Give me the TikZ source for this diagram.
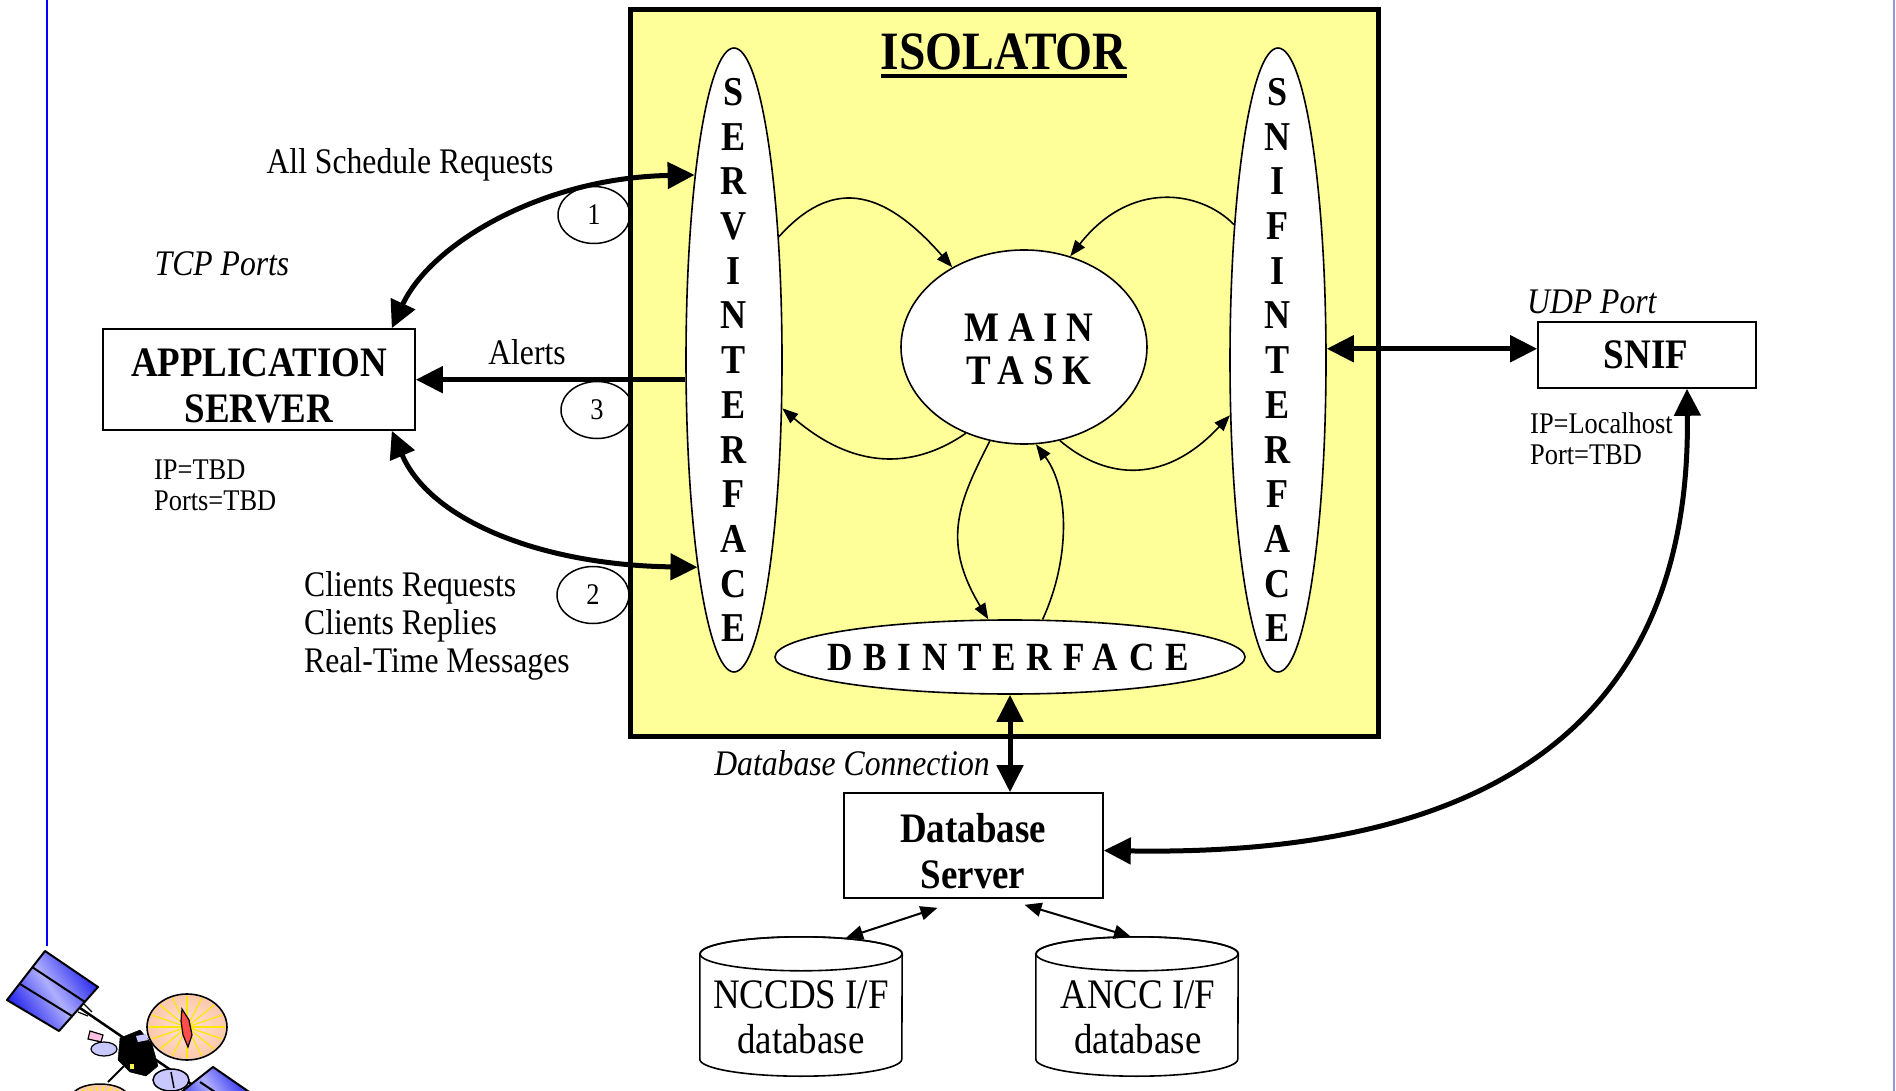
\documentclass[tikz,border=0pt]{standalone}
\usepackage{fontspec}
\setmainfont{Liberation Serif}[FakeStretch=0.88]
\usetikzlibrary{arrows.meta,shapes.geometric,calc}

\definecolor{isoyellow}{RGB}{255,255,153}
\definecolor{rulelav}{RGB}{150,150,230}
\definecolor{panelblue}{RGB}{30,30,235}
\definecolor{panellight}{RGB}{175,175,255}
\definecolor{dishpeach}{RGB}{250,200,170}
\definecolor{dishpink}{RGB}{255,225,215}
\definecolor{partlav}{RGB}{200,200,255}

% storage drum drawn round a named (invisible) rectangle node
\newcommand\drum[1]{%
  \filldraw[fill=white, line width=1.6pt]
    ($(#1.north west)+(0,17)$) -- ($(#1.south west)+(0,-17)$)
    arc[start angle=180, end angle=360, x radius=101pt, y radius=17pt]
    -- ($(#1.north east)+(0,17)$)
    arc[start angle=0, end angle=180, x radius=101pt, y radius=17pt];
  \draw[line width=1.6pt] ($(#1.north)+(0,17)$) ellipse[x radius=101pt, y radius=17pt];
}

\begin{document}
\begin{tikzpicture}[x=1pt, y=-1pt,
  lbl/.style={font=\fontsize{36}{38}\selectfont, inner sep=0pt},
  ilbl/.style={font=\fontsize{36}{38}\selectfont\itshape, inner sep=0pt},
  slbl/.style={font=\fontsize{30}{32}\selectfont, inner sep=0pt},
  boxnode/.style={draw, line width=1.6pt, fill=white, inner sep=0pt},
  btxt/.style={font=\fontsize{42}{46}\selectfont\bfseries, align=center, inner sep=0pt},
  ctxt/.style={font=\fontsize{42}{45}\selectfont, align=center, inner sep=0pt},
  vlet/.style={font=\fontsize{41}{41}\selectfont\bfseries, inner sep=0pt},
  oval/.style={ellipse, draw, line width=1.6pt, fill=white, inner sep=0pt},
  numc/.style={ellipse, draw, line width=1.5pt, fill=white, inner sep=0pt,
               minimum width=72pt, minimum height=57pt, font=\fontsize{30}{30}\selectfont},
  heavy/.style={line width=5pt, -{Triangle[length=27pt,width=26pt]}},
  heavyboth/.style={line width=5pt, {Triangle[length=27pt,width=26pt]}-{Triangle[length=27pt,width=26pt]}},
  flow/.style={line width=1.6pt, -{Triangle[length=16pt,width=12pt]}},
  dbflow/.style={line width=2pt, {Triangle[length=17pt,width=14pt]}-{Triangle[length=17pt,width=14pt]}},
]
\useasboundingbox (0,0) rectangle (1896,1091);
\fill[white] (0,0) rectangle (1896,1091);

% page rules
\draw[blue, line width=2pt] (47,0) -- (47,946);
\draw[rulelav, line width=2pt] (1894,0) -- (1894,1091);

% numbered port markers (partly hidden by the isolator frame)
\node[numc] (n1) at (594,215) {1};
\node[numc] (n3) at (597,410) {3};
\node[numc] (n2) at (593,595) {2};

% isolator frame and title
\node[draw, line width=5pt, fill=isoyellow, minimum width=748pt, minimum height=726pt, inner sep=0pt] (iso) at (1004,373) {};
\node[font=\fontsize{54}{54}\selectfont\bfseries, inner sep=0pt, anchor=base] (isot) at (1004,70) {ISOLATOR};
\draw[line width=4pt] ([yshift=-6pt]isot.base west) -- ([yshift=-6pt]isot.base east);

% interface ovals
\node[oval, minimum width=96pt, minimum height=624pt] (servif) at (734,360) {};
\node[oval, minimum width=96pt, minimum height=624pt] (snifif) at (1278,360) {};
\foreach \ch [count=\i] in {S,E,R,V,I,N,T,E,R,F,A,C,E}
  \node[vlet] (sv\i) at (734,{92+44.7*(\i-1)}) {\ch};
\foreach \ch [count=\i] in {S,N,I,F,I,N,T,E,R,F,A,C,E}
  \node[vlet] (sn\i) at (1278,{92+44.7*(\i-1)}) {\ch};

\node[oval, minimum width=246pt, minimum height=194pt] (main) at (1024,347) {};
\node[font=\fontsize{42}{43}\selectfont\bfseries\addfontfeature{LetterSpace=21}, align=center, inner sep=0pt] (maintxt) at (1029,349) {MAIN\\TASK};

\node[oval, minimum width=470pt, minimum height=74pt] (dbi) at (1010,657) {};
\node[font=\fontsize{40}{40}\selectfont\bfseries\addfontfeature{LetterSpace=27}, inner sep=0pt] (dbitxt) at (1008,657) {DBINTERFACE};

% internal message flows
\draw[flow] (servif.70) .. controls (830,180) and (880,185) .. (main.132);
\draw[flow] (snifif.108) .. controls (1200,190) and (1130,180) .. (main.63);
\draw[flow] (main.236) .. controls (920,465) and (860,475) .. (servif.315);
\draw[flow] (main.291) .. controls (1100,475) and (1160,490) .. (snifif.229);
\draw[flow] (main.250) .. controls (960,500) and (940,540) .. (dbi.120);
\draw[flow] (dbi.49) .. controls (1070,560) and (1070,490) .. (main.277);

% external boxes
\node[boxnode, minimum width=312pt, minimum height=101pt] (app) at (259,379.5) {};
\node[btxt] (apptxt) at (259,386) {APPLICATION\\SERVER};
\node[boxnode, minimum width=218pt, minimum height=66pt] (snif) at (1647,355) {};
\node[btxt] (sniftxt) at (1646,355) {SNIF};
\node[boxnode, minimum width=259pt, minimum height=105pt] (dbs) at (973.5,845.5) {};
\node[btxt] (dbstxt) at (973,851) {Database\\Server};

% databases
\node[inner sep=0pt, minimum width=202pt, minimum height=139pt] (nccds) at (801,1006.5) {};
\drum{nccds}
\node[ctxt] (nccdstxt) at (801,1017) {NCCDS I/F\\database};
\node[inner sep=0pt, minimum width=202pt, minimum height=139pt] (ancc) at (1137,1006.5) {};
\drum{ancc}
\node[ctxt] (ancctxt) at (1138,1017) {ANCC I/F\\database};

% external connections
\draw[heavyboth] ([xshift=-24pt]app.north east) .. controls (430,245) and (540,178) .. (servif.102);
\draw[heavyboth] ([xshift=-24pt]app.south east) .. controls (430,520) and (540,565) .. (servif.260);
\draw[heavy] (servif.202) -- (servif.202 -| app.east);
\draw[heavyboth] (snifif.13) -- (snifif.13 -| snif.west);
\draw[heavyboth] ([xshift=40pt]snif.south) .. controls (1692,760) and (1440,856) .. ([yshift=-5pt]dbs.east);
\draw[heavyboth] (dbi.south) -- (dbi.south |- dbs.north);
\draw[dbflow] ([xshift=-36pt,yshift=-9pt]dbs.south) -- ([xshift=45pt,yshift=-1pt]nccds.north);
\draw[dbflow] ([xshift=51pt,yshift=-6pt]dbs.south) -- ([xshift=-6pt]ancc.north);

% labels
\node[lbl, anchor=base] (lsched) at (410,174) {All Schedule Requests};
\node[ilbl, anchor=base] (ltcp) at (222,276) {TCP Ports};
\node[lbl, anchor=base] (lalerts) at (527,364) {Alerts};
\node[slbl, anchor=base west] (lip1) at (154,479) {IP=TBD};
\node[slbl, anchor=base west] (lports1) at (154,510) {Ports=TBD};
\node[lbl, anchor=base west] (lc1) at (304,596) {Clients Requests};
\node[lbl, anchor=base west] (lc2) at (304,634) {Clients Replies};
\node[lbl, anchor=base west] (lc3) at (304,672) {Real-Time Messages};
\node[ilbl, anchor=base west] (ludp) at (1527,314) {UDP Port};
\node[slbl, anchor=base west] (lip2) at (1530,433) {IP=Localhost};
\node[slbl, anchor=base west] (lport2) at (1530,464) {Port=TBD};
\node[ilbl, anchor=base] (ldbc) at (852,775) {Database Connection};

% satellite emblem
\begin{scope}
  \clip (0,0) rectangle (1896,1091);
  % boom
  \draw[line width=2.5pt] (80,1008) -- (200,1090);
  \draw[line width=1.2pt] (78,1012) -- (88,1016) (84,1004) -- (92,1012);
  % upper solar panel
  \shade[left color=panelblue, right color=panelblue, middle color=panellight, shading angle=-56]
    (45,951) -- (98,987) -- (59,1031) -- (7,1000) -- cycle;
  \draw[line width=2pt, line join=round] (45,951) -- (98,987) -- (59,1031) -- (7,1000) -- cycle;
  \draw[line width=2pt] (32,967) -- (85,1002) (20,984) -- (72,1016);
  % lower solar panel
  \shade[left color=panelblue, right color=panelblue, middle color=panellight, shading angle=-56]
    (213,1067) -- (255,1096) -- (215,1125) -- (175,1097) -- cycle;
  \draw[line width=2pt, line join=round] (213,1067) -- (255,1096) -- (215,1125) -- (175,1097) -- cycle;
  \draw[line width=2pt] (200,1082) -- (242,1110);
  % small dish below
  \filldraw[fill=dishpeach, line width=1.5pt] (100,1097) ellipse[x radius=28pt, y radius=13pt];
  \foreach \a in {20,40,...,160}
    \draw[yellow, line width=1pt] (100,1097) -- ++(\a:24pt and 11pt);
  % pale dish
  \filldraw[fill=partlav, line width=1.5pt] (171,1080) ellipse[x radius=18pt, y radius=11pt];
  \draw[line width=1.5pt] (171,1072) -- (174,1088);
  % pink flag and pale module
  \filldraw[fill=pink!80!magenta!60, line width=1.2pt] (90,1031) -- (103,1035) -- (101,1042) -- (88,1039) -- cycle;
  \draw[line width=1.2pt] (97,1041) -- (112,1046);
  \filldraw[fill=partlav, line width=1.2pt] (104,1049) ellipse[x radius=13pt, y radius=7pt];
  % body
  \filldraw[fill=black] (120,1038) -- (140,1030) -- (152,1044) -- (158,1066) -- (146,1076) -- (130,1072) -- (118,1060) -- cycle;
  \fill[partlav] (136,1036) -- (146,1034) -- (148,1040) -- (138,1042) -- cycle;
  \fill[yellow!70] (130,1064) rectangle (134,1069);
  \draw[line width=2pt] (124,1066) -- (108,1082);
  % main reflector
  \shade[inner color=dishpink, outer color=dishpeach] (187,1027) ellipse[x radius=40pt, y radius=33pt];
  \foreach \a in {0,22.5,...,337.5}
    \draw[yellow!90!orange, line width=1.2pt] (187,1027) -- ++(\a:38pt and 31pt);
  \draw[line width=1.6pt] (187,1027) ellipse[x radius=40pt, y radius=33pt];
  \filldraw[fill=red!70, line width=1.2pt] (182,1009) -- (189,1020) -- (192,1035) -- (188,1047) -- (183,1035) -- (181,1021) -- cycle;
\end{scope}
\end{tikzpicture}
\end{document}
